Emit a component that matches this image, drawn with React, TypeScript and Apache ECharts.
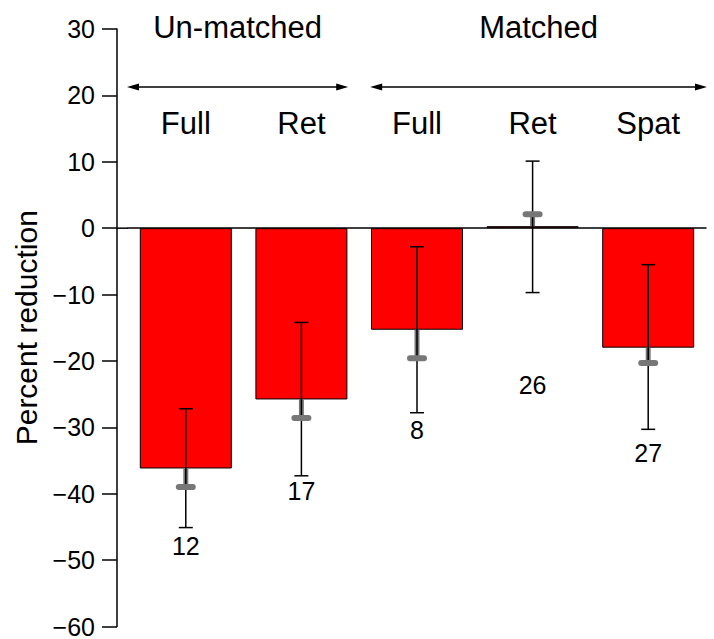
import React, { useEffect, useRef } from "react";
import * as echarts from "echarts";

const categories = ["Full", "Ret", "Full", "Ret", "Spat"];
const meanValues = [-36.2, -25.8, -15.3, 0.3, -18.0];
const errLow = [-45.1, -37.3, -27.8, -9.7, -30.3];
const errHigh = [-27.2, -14.2, -2.8, 10.1, -5.5];
const grayMarks = [-39.0, -28.6, -19.6, 2.1, -20.3];
const counts = [12, 17, 8, 26, 27];
const countPos = [-47.8, -39.6, -30.4, -23.6, -33.8];
const groupNames = ["Un-matched", "Matched"];
const groupSpans = [
  [0, 1],
  [2, 4],
];
const yMin = -60;
const yMax = 30;
const yStep = 10;

const FONT = "'Liberation Sans', Arial, Helvetica, sans-serif";

export default function App() {
  const ref = useRef<HTMLDivElement>(null);

  useEffect(() => {
    if (!ref.current) return;
    const chart = echarts.init(ref.current, null, { renderer: "svg" });

    const errData = categories.map((_, i) => [i, errLow[i], errHigh[i], meanValues[i], grayMarks[i]]);
    const countData = categories.map((_, i) => [i, countPos[i], counts[i]]);

    chart.setOption({
      animation: false,
      backgroundColor: "#ffffff",
      textStyle: { fontFamily: FONT },
      grid: { left: 128, right: 8, top: 29, bottom: 9.7, containLabel: false },
      xAxis: [
        {
          type: "category",
          data: categories,
          axisLine: { show: true, onZero: true, lineStyle: { color: "#000", width: 1.5 } },
          axisTick: { show: false },
          axisLabel: { show: false },
          splitLine: { show: false },
        },
        {
          type: "category",
          data: categories,
          position: "top",
          offset: -94,
          axisLine: { show: false },
          axisTick: { show: false },
          splitLine: { show: false },
          axisLabel: {
            show: true,
            margin: 0,
            verticalAlign: "middle",
            fontSize: 31,
            color: "#000",
            fontFamily: FONT,
          },
        },
      ],
      yAxis: {
        type: "value",
        min: yMin,
        max: yMax,
        interval: yStep,
        offset: 11,
        name: "Percent reduction",
        nameLocation: "middle",
        nameGap: 74,
        nameTextStyle: { fontSize: 30, color: "#000", fontFamily: FONT },
        axisLine: { show: true, lineStyle: { color: "#000", width: 1.5 } },
        axisTick: { show: true, length: 15, lineStyle: { color: "#000", width: 1.5 } },
        axisLabel: {
          margin: 22,
          fontSize: 25,
          color: "#000",
          fontFamily: FONT,
          formatter: (v: number) => String(v).replace("-", "\u2212"),
        },
        splitLine: { show: false },
      },
      series: [
        {
          type: "bar",
          data: meanValues,
          barWidth: 92,
          itemStyle: { color: "#ff0000", borderColor: "#000", borderWidth: 1 },
          z: 2,
        },
        {
          type: "custom",
          data: errData,
          encode: { x: 0, y: [1, 2, 3, 4] },
          z: 5,
          renderItem: (params: any, api: any) => {
            const i = api.value(0);
            const lo = api.coord([i, api.value(1)]);
            const hi = api.coord([i, api.value(2)]);
            const mn = api.coord([i, api.value(3)]);
            const gm = api.coord([i, api.value(4)]);
            const x = lo[0];
            return {
              type: "group",
              children: [
                {
                  type: "line",
                  shape: { x1: x, y1: mn[1], x2: x, y2: gm[1] },
                  style: { stroke: "#777777", lineWidth: 5 },
                },
                {
                  type: "line",
                  shape: { x1: x, y1: lo[1], x2: x, y2: hi[1] },
                  style: { stroke: "#000", lineWidth: 1.5 },
                },
                {
                  type: "line",
                  shape: { x1: x - 7, y1: lo[1], x2: x + 7, y2: lo[1] },
                  style: { stroke: "#000", lineWidth: 1.5 },
                },
                {
                  type: "line",
                  shape: { x1: x - 7, y1: hi[1], x2: x + 7, y2: hi[1] },
                  style: { stroke: "#000", lineWidth: 1.5 },
                },
                {
                  type: "line",
                  shape: { x1: x - 7, y1: gm[1], x2: x + 7, y2: gm[1] },
                  style: { stroke: "#777777", lineWidth: 6, lineCap: "round" },
                },
              ],
            };
          },
        },
        {
          type: "custom",
          data: countData,
          encode: { x: 0, y: 1 },
          z: 6,
          renderItem: (params: any, api: any) => {
            const p = api.coord([api.value(0), api.value(1)]);
            return {
              type: "text",
              x: p[0],
              y: p[1],
              style: {
                text: String(api.value(2)),
                fontSize: 25,
                fontFamily: FONT,
                fill: "#000",
                textAlign: "center",
                textVerticalAlign: "middle",
              },
            };
          },
        },
      ],
    });

    const px = (i: number, v: number) => chart.convertToPixel({ gridIndex: 0 }, [i, v]) as number[];
    const c0 = px(0, 0);
    const c1 = px(1, 0);
    const band = c1[0] - c0[0];
    const y0 = c0[1];
    const gridLeft = c0[0] - band / 2;
    const axisX = gridLeft - 11;
    const arrowY = 87;
    const graphics: any[] = [];

    graphics.push({
      type: "line",
      shape: { x1: axisX, y1: y0, x2: gridLeft, y2: y0 },
      style: { stroke: "#000", lineWidth: 1.5 },
    });

    groupSpans.forEach((span, g) => {
      const a = px(span[0], 0)[0];
      const b = px(span[1], 0)[0];
      let x1 = a - band / 2;
      let x2 = b + band / 2;
      if (g > 0) x1 += 11;
      else x1 -= 1;
      if (g < groupSpans.length - 1) x2 -= 11;
      else x2 += 1;
      graphics.push({
        type: "line",
        shape: { x1: x1 + 5, y1: arrowY, x2: x2 - 5, y2: arrowY },
        style: { stroke: "#000", lineWidth: 1.5 },
      });
      graphics.push({
        type: "polygon",
        shape: { points: [[x1, arrowY], [x1 + 12, arrowY - 3.5], [x1 + 12, arrowY + 3.5]] },
        style: { fill: "#000" },
      });
      graphics.push({
        type: "polygon",
        shape: { points: [[x2, arrowY], [x2 - 12, arrowY - 3.5], [x2 - 12, arrowY + 3.5]] },
        style: { fill: "#000" },
      });
      graphics.push({
        type: "text",
        x: (x1 + x2) / 2,
        y: 27,
        style: {
          text: groupNames[g],
          fontSize: 31,
          fontFamily: FONT,
          fill: "#000",
          textAlign: "center",
          textVerticalAlign: "middle",
        },
      });
    });

    chart.setOption({ graphic: graphics });

    return () => chart.dispose();
  }, []);

  return (
    <div
      ref={ref}
      style={{ position: "fixed", left: 0, top: 0, width: 714, height: 639, background: "#fff" }}
    />
  );
}
